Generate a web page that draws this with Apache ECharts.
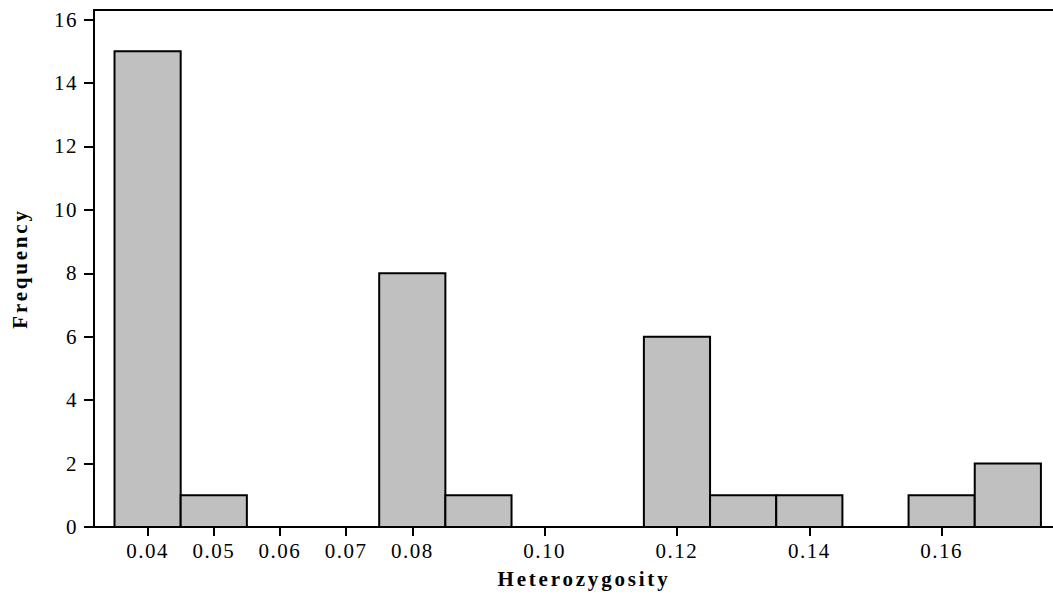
<!DOCTYPE html>
<html>
<head>
<meta charset="utf-8">
<script src="https://cdn.jsdelivr.net/npm/echarts@6/dist/echarts.min.js"></script>
<style>
html,body{margin:0;padding:0;background:#fff;}
#c{width:1053px;height:597px;overflow:hidden;}
#c svg text{letter-spacing:1.5px;}
#c svg text[style*="bold"]{letter-spacing:2.8px;}
</style>
</head>
<body>
<div id="c"></div>
<script>
var binStarts = [0.035, 0.045, 0.055, 0.065, 0.075, 0.085, 0.095, 0.105, 0.115, 0.125, 0.135, 0.145, 0.155, 0.165];
var binWidth = 0.01;
var counts = [15, 1, 0, 0, 8, 1, 0, 0, 6, 1, 1, 0, 1, 2];
var xTickLabels = [0.04, 0.05, 0.06, 0.07, 0.08, 0.10, 0.12, 0.14, 0.16];
var yTickLabels = [0, 2, 4, 6, 8, 10, 12, 14, 16];

var data = binStarts.map(function (s, i) { return [s, s + binWidth, counts[i]]; });
var font = 'Liberation Serif';
var xMin = 0.0319, xMax = 0.18;

var chart = echarts.init(document.getElementById('c'), null, { renderer: 'svg' });
chart.setOption({
  animation: false,
  backgroundColor: '#fff',
  grid: { left: 94, right: -21, top: 10, bottom: 70, show: false, containLabel: false, outerBoundsMode: 'none' },
  xAxis: [{
    type: 'value', min: xMin, max: xMax, position: 'bottom',
    name: 'Heterozygosity', nameLocation: 'middle', nameGap: 41,
    nameTextStyle: { fontFamily: font, fontSize: 21, fontWeight: 'bold', color: '#000' },
    axisLine: { show: true, onZero: false, lineStyle: { color: '#000', width: 2 } },
    axisTick: { show: true, length: 9, lineStyle: { color: '#000', width: 2 }, customValues: xTickLabels },
    axisLabel: { margin: 13, fontFamily: font, fontSize: 21, color: '#000', customValues: xTickLabels,
      formatter: function (v) { return v.toFixed(2); } },
    splitLine: { show: false }
  }, {
    type: 'value', min: xMin, max: xMax, position: 'top',
    axisLine: { show: true, onZero: false, lineStyle: { color: '#000', width: 2 } },
    axisTick: { show: false }, axisLabel: { show: false }, splitLine: { show: false }
  }],
  yAxis: {
    type: 'value', min: 0, max: 16.3,
    name: 'Frequency', nameLocation: 'middle', nameGap: 64,
    nameTextStyle: { fontFamily: font, fontSize: 21, fontWeight: 'bold', color: '#000' },
    axisLine: { show: true, lineStyle: { color: '#000', width: 2 } },
    axisTick: { show: true, length: 10, lineStyle: { color: '#000', width: 2 }, customValues: yTickLabels },
    axisLabel: { margin: 16, fontFamily: font, fontSize: 21, color: '#000', customValues: yTickLabels },
    splitLine: { show: false }
  },
  series: [{
    type: 'custom',
    xAxisIndex: 0,
    encode: { x: [0, 1], y: 2 },
    data: data,
    renderItem: function (params, api) {
      var p0 = api.coord([api.value(0), api.value(2)]);
      var p1 = api.coord([api.value(1), 0]);
      return {
        type: 'rect',
        shape: { x: p0[0], y: p0[1], width: p1[0] - p0[0], height: p1[1] - p0[1] },
        style: { fill: '#c0c0c0', stroke: '#000', lineWidth: 2 }
      };
    }
  }]
});
</script>
</body>
</html>
